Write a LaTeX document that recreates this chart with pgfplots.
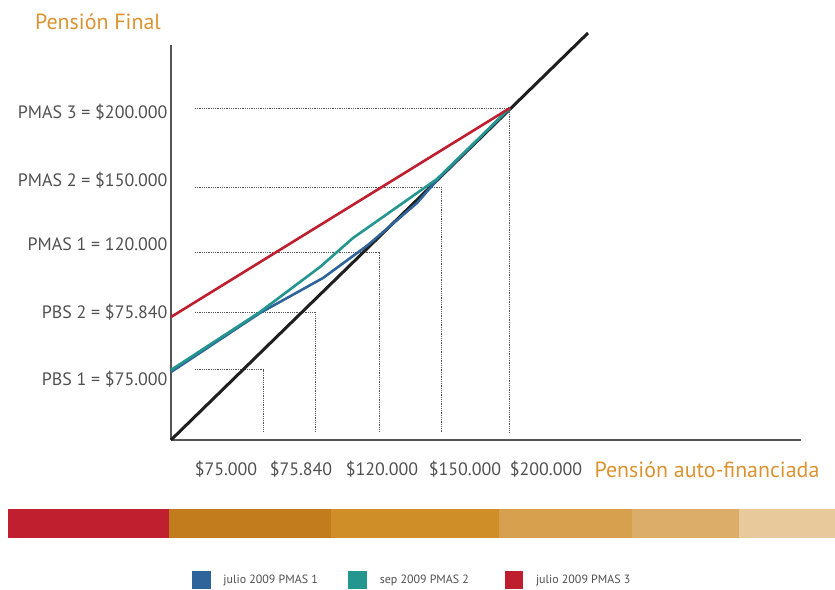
\documentclass[border=0pt]{standalone}
\usepackage{pgfplots}
\pgfplotsset{compat=1.18}
\usepackage{fontspec}
\setmainfont{PT Sans}
\definecolor{cblue}{HTML}{2E6499}
\definecolor{cteal}{HTML}{23968F}
\definecolor{cred}{HTML}{BE1E2D}
\definecolor{corange}{HTML}{DA9330}
\definecolor{band1}{HTML}{C01F2F}
\definecolor{band2}{HTML}{C27C1D}
\definecolor{band3}{HTML}{D08E29}
\definecolor{band4}{HTML}{D7A04F}
\definecolor{band5}{HTML}{DBAD69}
\definecolor{band6}{HTML}{E8C99B}
\definecolor{txtgray}{HTML}{505050}
\definecolor{axgray}{HTML}{555555}
\begin{document}
\begin{tikzpicture}
\useasboundingbox (-171bp,-150bp) rectangle (664bp,440bp);
\begin{axis}[
  at={(0,0)}, anchor=south west,
  scale only axis, width=630bp, height=395bp,
  xmin=0, xmax=630, ymin=0, ymax=395,
  clip=false,
  axis lines=left,
  axis line style={-, axgray, line width=1.2bp},
  major tick length=0pt,
  /pgf/number format/assume math mode=true,
  xtick={55,130,211,294,375},
  xticklabels={\$75.000,\$75.840,\$120.000,\$150.000,\$200.000},
  ytick={61,128,196,260,328},
  yticklabels={PBS 1 = \$75.000, PBS 2 = \$75.840, PMAS 1 = 120.000, PMAS 2 = \$150.000, PMAS 3 = \$200.000},
  ticklabel style={font=\fontsize{18}{21}\selectfont, text=txtgray},
  xticklabel style={yshift=-18bp},
  legend style={at={(axis description cs:0.0333,-0.3544)}, anchor=west, draw=none, fill=none,
    font=\fontsize{12}{14}\selectfont, text=txtgray, inner sep=0pt,
    /tikz/every even column/.append style={column sep=0bp}},
  legend columns=3,
  legend image code/.code={\fill[#1] (0bp,-8bp) rectangle (16bp,8bp); \path[draw=none,fill=none] (0bp,0bp) rectangle (28bp,1bp);},
]
% reference lines
\addplot[forget plot, axgray, densely dotted, line width=0.8bp] coordinates {(24,332) (338,332) (338,8)};
\addplot[forget plot, axgray, densely dotted, line width=0.8bp] coordinates {(24,253) (270,253) (270,8)};
\addplot[forget plot, axgray, densely dotted, line width=0.8bp] coordinates {(24,188) (208,188) (208,8)};
\addplot[forget plot, axgray, densely dotted, line width=0.8bp] coordinates {(24,127.5) (144.5,127.5) (144.5,8)};
\addplot[forget plot, axgray, densely dotted, line width=0.8bp] coordinates {(24,70.5) (92.3,70.5) (92.3,8)};
% 45-degree line
\addplot[forget plot, color=black!88, line width=3bp] coordinates {(0,0) (417,407)};
% series
\addplot[cblue, line width=2.6bp] coordinates {(0,68) (89,127) (152,162) (197,195) (246,237) (266,260) (339,332)};
\addlegendentry{\makebox[123bp][l]{julio 2009 PMAS 1}}
\addplot[cteal, line width=2.6bp] coordinates {(0,70) (89,128) (149,173) (182,202) (266,261) (339,332)};
\addlegendentry{\makebox[123bp][l]{sep 2009 PMAS 2}}
\addplot[cred, line width=2.6bp] coordinates {(0,123) (339,332)};
\addlegendentry{\makebox[123bp][l]{julio 2009 PMAS 3}}
% titles
\node[text=corange, font=\fontsize{22}{26}\selectfont] at (axis cs:-73,418) {Pensión Final};
\node[text=corange, font=\fontsize{22}{26}\selectfont] at (axis cs:536,-30) {Pensión auto-financiada};
% colour band
\fill[band1] (axis cs:-163,-69) rectangle (axis cs:-2,-98);
\fill[band2] (axis cs:-2,-69) rectangle (axis cs:160,-98);
\fill[band3] (axis cs:160,-69) rectangle (axis cs:328,-98);
\fill[band4] (axis cs:328,-69) rectangle (axis cs:461,-98);
\fill[band5] (axis cs:461,-69) rectangle (axis cs:568,-98);
\fill[band6] (axis cs:568,-69) rectangle (axis cs:664,-98);
\end{axis}
\end{tikzpicture}
\end{document}
